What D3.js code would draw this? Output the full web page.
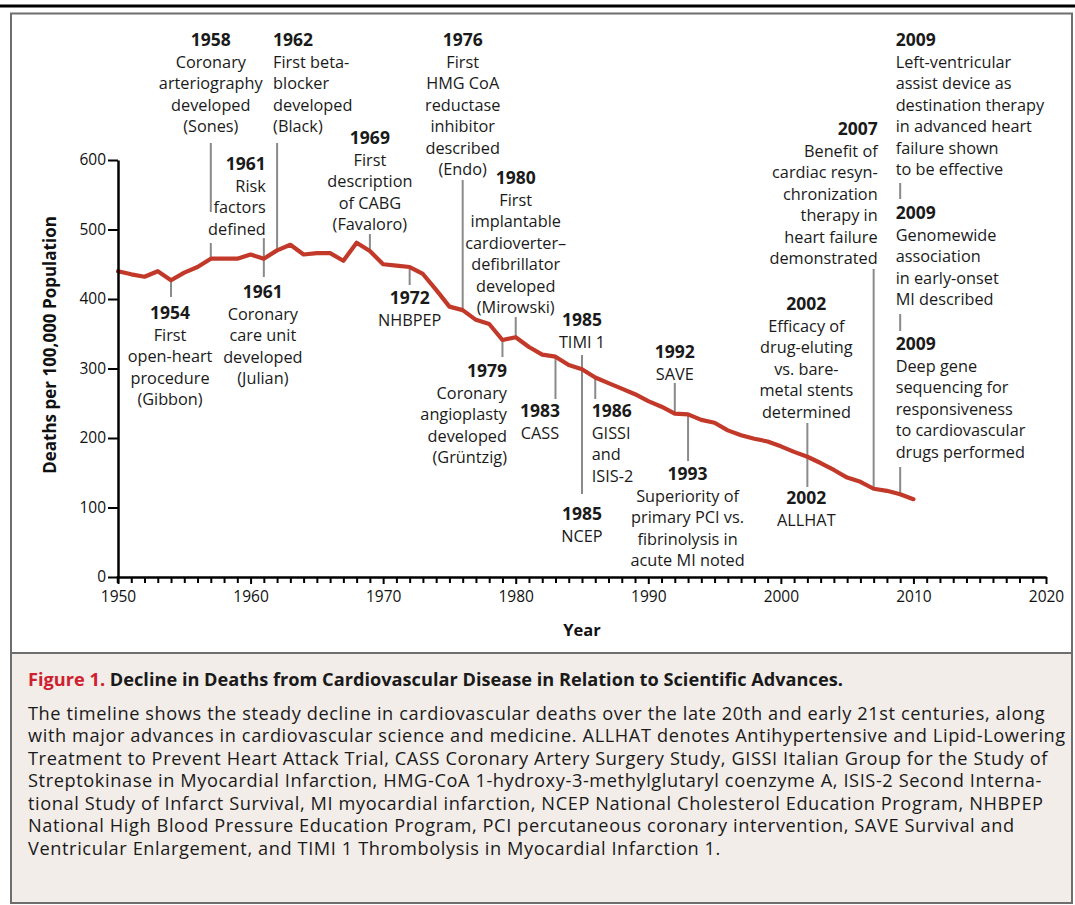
<!DOCTYPE html>
<html><head><meta charset="utf-8">
<script src="https://cdn.jsdelivr.net/npm/d3@7"></script>
<style>
html,body{margin:0;padding:0;background:#fff;}
svg{display:block;}
text{font-family:"Open Sans",sans-serif;}
</style></head>
<body>
<svg id="c" width="1075" height="905"></svg>
<script>
// ---- data ----
const years = [1950,1951,1952,1953,1954,1955,1956,1957,1958,1959,1960,1961,1962,1963,1964,1965,1966,1967,1968,1969,
  1970,1971,1972,1973,1974,1975,1976,1977,1978,1979,1980,1981,1982,1983,1984,1985,1986,1987,1988,1989,
  1990,1991,1992,1993,1994,1995,1996,1997,1998,1999,2000,2001,2002,2003,2004,2005,2006,2007,2008,2009,2010];
const deaths = [440,435.5,432,440,427,438,446,458,458,458,464,458,470,478,464,466,466,455,481,469,
  450,448,446,436,413,389,384,370,364,341,345,331,320,317,305,299,287,279,271,263,
  253,245,235,234,226,222,211,204,199,195,188,180,173,164,154,143,137,127,124,119,112];
const yTicks = [0,100,200,300,400,500,600];
const xTickLabels = [1950,1960,1970,1980,1990,2000,2010,2020];
const yTitle = "Deaths per 100,000 Population";
const xTitle = "Year";

// annotation content: label year, anchor year on the series, text lines
const annotations = [
  {id:"a1958", label:"1958", at:1957, lines:["Coronary","arteriography","developed","(Sones)"]},
  {id:"a1962", label:"1962", at:1962, lines:["First beta-","blocker","developed","(Black)"]},
  {id:"a1961r", label:"1961", at:1961, lines:["Risk","factors","defined"]},
  {id:"a1969", label:"1969", at:1969, lines:["First","description","of CABG","(Favaloro)"]},
  {id:"a1976", label:"1976", at:1976, lines:["First","HMG CoA","reductase","inhibitor","described","(Endo)"]},
  {id:"a1980", label:"1980", at:1980, lines:["First","implantable","cardioverter–","defibrillator","developed","(Mirowski)"]},
  {id:"a1954", label:"1954", at:1954, lines:["First","open-heart","procedure","(Gibbon)"]},
  {id:"a1961c", label:"1961", at:1961, lines:["Coronary","care unit","developed","(Julian)"]},
  {id:"a1972", label:"1972", at:1972, lines:["NHBPEP"]},
  {id:"a1979", label:"1979", at:1979, lines:["Coronary","angioplasty","developed","(Grüntzig)"]},
  {id:"a1983", label:"1983", at:1983, lines:["CASS"]},
  {id:"a1985t", label:"1985", at:1985, lines:["TIMI 1"]},
  {id:"a1985n", label:"1985", at:1985, lines:["NCEP"]},
  {id:"a1986", label:"1986", at:1986, lines:["GISSI","and","ISIS-2"]},
  {id:"a1992", label:"1992", at:1992, lines:["SAVE"]},
  {id:"a1993", label:"1993", at:1993, lines:["Superiority of","primary PCI vs.","fibrinolysis in","acute MI noted"]},
  {id:"a2002e", label:"2002", at:2002, lines:["Efficacy of","drug-eluting","vs. bare-","metal stents","determined"]},
  {id:"a2002a", label:"2002", at:2002, lines:["ALLHAT"]},
  {id:"a2007", label:"2007", at:2007, lines:["Benefit of","cardiac resyn-","chronization","therapy in","heart failure","demonstrated"]},
  {id:"a2009l", label:"2009", at:2009, lines:["Left-ventricular","assist device as","destination therapy","in advanced heart","failure shown","to be effective"]},
  {id:"a2009g", label:"2009", at:2009, lines:["Genomewide","association","in early-onset","MI described"]},
  {id:"a2009d", label:"2009", at:2009, lines:["Deep gene","sequencing for","responsiveness","to cardiovascular","drugs performed"]}
];

const captionTitleRed = "Figure 1.";
const captionTitle = " Decline in Deaths from Cardiovascular Disease in Relation to Scientific Advances.";
const captionLines = [
  "The timeline shows the steady decline in cardiovascular deaths over the late 20th and early 21st centuries, along",
  "with major advances in cardiovascular science and medicine. ALLHAT denotes Antihypertensive and Lipid-Lowering",
  "Treatment to Prevent Heart Attack Trial, CASS Coronary Artery Surgery Study, GISSI Italian Group for the Study of",
  "Streptokinase in Myocardial Infarction, HMG-CoA 1-hydroxy-3-methylglutaryl coenzyme A, ISIS-2 Second Interna-",
  "tional Study of Infarct Survival, MI myocardial infarction, NCEP National Cholesterol Education Program, NHBPEP",
  "National High Blood Pressure Education Program, PCI percutaneous coronary intervention, SAVE Survival and",
  "Ventricular Enlargement, and TIMI 1 Thrombolysis in Myocardial Infarction 1."
];

// ---- layout (pixels) for annotations: dx from anchor, top line center y, anchor, leader segments ('d' = series point)
const layout = {
  a1958:{dx:0, ty:40, anchor:"middle", leaders:[[143,212],[243,"d"]]},
  a1962:{dx:-4, ty:40, anchor:"start", leaders:[[143,"d"]]},
  a1961r:{dx:2, ty:164, anchor:"end", leaders:[[238,"d"]]},
  a1969:{dx:0, ty:138, anchor:"middle", leaders:[[234,"d"]]},
  a1976:{dx:0, ty:40, anchor:"middle", leaders:[[180,"d"]]},
  a1980:{dx:0, ty:178, anchor:"middle", leaders:[[317,"d"]]},
  a1954:{dx:-1, ty:313, anchor:"middle", leaders:[["d",297]]},
  a1961c:{dx:-1, ty:292, anchor:"middle", leaders:[["d",277]]},
  a1972:{dx:0, ty:298, anchor:"middle", leaders:[["d",285]]},
  a1979:{dx:4.5, ty:371, anchor:"end", leaders:[["d",357]]},
  a1983:{dx:-15.5, ty:411, anchor:"middle", leaders:[["d",399]]},
  a1985t:{dx:0, ty:320, anchor:"middle", leaders:[[355,494]]},
  a1985n:{dx:0, ty:514, anchor:"middle", leaders:[]},
  a1986:{dx:-3.5, ty:411, anchor:"start", leaders:[["d",399]]},
  a1992:{dx:0, ty:352, anchor:"middle", leaders:[[383,"d"]]},
  a1993:{dx:-0.5, ty:474, anchor:"middle", leaders:[["d",461]]},
  a2002e:{dx:-1, ty:304, anchor:"middle", leaders:[[423,487]]},
  a2002a:{dx:-1, ty:498, anchor:"middle", leaders:[]},
  a2007:{dx:4, ty:129, anchor:"end", leaders:[[269,"d"]]},
  a2009l:{dx:-4.5, ty:40, anchor:"start", leaders:[[183,199]]},
  a2009g:{dx:-4.5, ty:213, anchor:"start", leaders:[[314,331]]},
  a2009d:{dx:-4.5, ty:344, anchor:"start", leaders:[[467,"d"]]}
};

const svg = d3.select("#c");
const W = 1075;

// frame
svg.append("rect").attr("x",0).attr("y",4.5).attr("width",W).attr("height",3).attr("fill","#000");
svg.append("rect").attr("x",11).attr("y",653).attr("width",1061).attr("height",250).attr("fill","#f3ede9");
svg.append("rect").attr("x",11).attr("y",13.5).attr("width",1061).attr("height",889.5)
  .attr("fill","none").attr("stroke","#6e6e6e").attr("stroke-width",2);
svg.append("line").attr("x1",11).attr("x2",1072).attr("y1",653).attr("y2",653)
  .attr("stroke","#6e6e6e").attr("stroke-width",2);

// scales
const x = d3.scaleLinear().domain([1950,2020]).range([118,1046]);
const y = d3.scaleLinear().domain([0,600]).range([577,160]);

const g = svg.append("g");

// leaders
const seriesY = yr => y(deaths[years.indexOf(yr)]);
annotations.forEach(a=>{
  const L = layout[a.id];
  const lx = x(a.at);
  L.leaders.forEach(seg=>{
    const y1 = seg[0]==="d" ? seriesY(a.at) : seg[0];
    const y2 = seg[1]==="d" ? seriesY(a.at) : seg[1];
    g.append("line").attr("x1",lx).attr("x2",lx).attr("y1",y1).attr("y2",y2)
      .attr("stroke","#8a8a8a").attr("stroke-width",2);
  });
});

// series line
const line = d3.line().x((d,i)=>x(years[i])).y(d=>y(d));
g.append("path").datum(deaths).attr("d",line).attr("fill","none")
  .attr("stroke","#c2392a").attr("stroke-width",4.2).attr("stroke-linejoin","round").attr("stroke-linecap","round");

// axes
const allYears = d3.range(1950,2021);
const xAxis = d3.axisBottom(x).tickValues(allYears).tickSize(6).tickSizeOuter(0)
  .tickFormat(d=> xTickLabels.includes(d) ? String(d) : "");
const gx = svg.append("g").attr("transform","translate(0,577)").call(xAxis);
gx.select(".domain").attr("stroke","#000").attr("stroke-width",2.5);
gx.selectAll(".tick line").attr("stroke","#000").attr("stroke-width",2).attr("y2",d=> xTickLabels.includes(d)?7:6);
gx.selectAll(".tick text").attr("font-family","Open Sans").attr("font-size",15.5).attr("fill","#111").attr("dy",0).attr("y",25);

const yAxis = d3.axisLeft(y).tickValues(yTicks).tickSize(10).tickSizeOuter(0).tickPadding(2);
const gy = svg.append("g").attr("transform","translate(118,0)").call(yAxis);
gy.select(".domain").attr("stroke","#000").attr("stroke-width",2.5);
gy.selectAll(".tick line").attr("stroke","#000").attr("stroke-width",2);
gy.selectAll(".tick text").attr("font-family","Open Sans").attr("font-size",15.5).attr("fill","#111");
svg.append("line").attr("x1",118).attr("x2",118).attr("y1",576).attr("y2",583).attr("stroke","#000").attr("stroke-width",2.5);

// axis titles
svg.append("text").attr("transform","translate(56,345) rotate(-90)").attr("text-anchor","middle")
  .attr("font-weight",700).attr("font-size",17).attr("fill","#111").text(yTitle);
svg.append("text").attr("x",582).attr("y",636).attr("text-anchor","middle")
  .attr("font-weight",700).attr("font-size",16.5).attr("fill","#111").text(xTitle);

// annotation text
const LH = 21.5;
annotations.forEach(a=>{
  const L = layout[a.id];
  const tx = x(a.at)+L.dx;
  const t = g.append("text").attr("text-anchor",L.anchor).attr("fill","#1a1a1a");
  t.append("tspan").attr("x",tx).attr("y",L.ty+6).attr("font-weight",700).attr("font-size",17.5).text(a.label);
  a.lines.forEach((ln,i)=>{
    t.append("tspan").attr("x",tx).attr("y",L.ty+6+LH*(i+1)).attr("font-size",16.3).text(ln);
  });
});

// caption
const ct = svg.append("text").attr("x",28).attr("y",685.5).attr("font-size",18.2).attr("font-weight",700);
ct.append("tspan").attr("fill","#d0202e").text(captionTitleRed);
ct.append("tspan").attr("fill","#1a1a1a").text(captionTitle);
const cb = svg.append("text").attr("font-size",18.2).attr("letter-spacing",0.6).attr("fill","#1a1a1a");
captionLines.forEach((ln,i)=>{
  cb.append("tspan").attr("x",28).attr("y",720+22.45*i).text(ln);
});
</script>
</body></html>
